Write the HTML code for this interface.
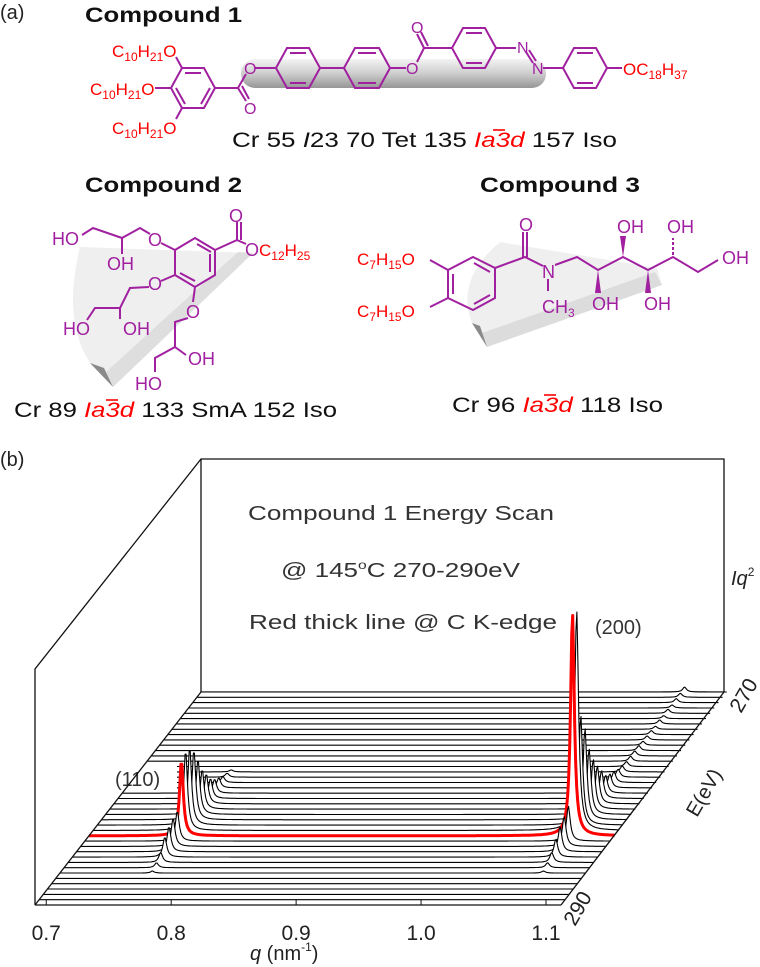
<!DOCTYPE html>
<html><head><meta charset="utf-8">
<style>
html,body{margin:0;padding:0;background:#fff;}
body{width:760px;height:967px;overflow:hidden;position:relative;font-family:"Liberation Sans",sans-serif;}
svg{position:absolute;left:0;top:0;}
</style></head>
<body>
<svg width="760" height="967" viewBox="0 0 760 967" font-family="Liberation Sans, sans-serif">
<defs>
<linearGradient id="cap" x1="0" y1="0" x2="0" y2="1">
<stop offset="0" stop-color="#f2f2f2"/><stop offset="0.5" stop-color="#c8c8c8"/><stop offset="1" stop-color="#8a8a8a"/>
</linearGradient>
</defs>

<!-- ============ PART A ============ -->
<text x="0" y="19" font-size="20" fill="#222">(a)</text>
<text x="85" y="22" font-size="21" font-weight="bold" fill="#111" textLength="157" lengthAdjust="spacingAndGlyphs">Compound 1</text>

<g>
<rect x="241" y="59" width="305" height="29" rx="14" fill="url(#cap)" opacity="0.9"/>
<g fill="none" stroke="#a020a0" stroke-width="2">
<polygon points="171,88 182,68 204,68 215,88 204,108 182,108"/>
<polyline points="185,73 201,73"/><polyline points="210,88 201,104"/><polyline points="176,88 185,104"/>
<line x1="182" y1="68" x2="176" y2="57"/><line x1="171" y1="88" x2="155" y2="88"/><line x1="182" y1="108" x2="176" y2="119"/>
<polyline points="215,88 238,88 246,74"/><line x1="238" y1="88" x2="246" y2="101"/><line x1="242" y1="86" x2="249" y2="99"/>
<line x1="255" y1="68" x2="276" y2="68"/>
<polygon points="276,68 287,48 309,48 320,68 309,88 287,88"/>
<line x1="290" y1="53" x2="306" y2="53"/><line x1="290" y1="83" x2="306" y2="83"/>
<line x1="320" y1="68" x2="344" y2="68"/>
<polygon points="344,68 355,48 379,48 390,68 379,88 355,88"/>
<line x1="358" y1="53" x2="376" y2="53"/><line x1="358" y1="83" x2="376" y2="83"/>
<line x1="390" y1="68" x2="406" y2="68"/>
<polyline points="417,62 424,48 452,48"/><line x1="424" y1="48" x2="417" y2="34"/><line x1="428" y1="46" x2="421" y2="32"/>
<polygon points="452,48 463,28 485,28 496,48 485,68 463,68"/>
<line x1="466" y1="33" x2="482" y2="33"/><line x1="466" y1="63" x2="482" y2="63"/>
<line x1="496" y1="48" x2="516" y2="48"/><line x1="526" y1="52" x2="533" y2="63"/><line x1="529" y1="50" x2="536" y2="61"/>
<line x1="543" y1="68" x2="563" y2="68"/>
<polygon points="563,68 574,48 596,48 607,68 596,88 574,88"/>
<line x1="577" y1="53" x2="593" y2="53"/><line x1="577" y1="83" x2="593" y2="83"/>
<line x1="607" y1="68" x2="622" y2="68"/>
</g>
<g font-size="16" fill="#a020a0">
<text x="244" y="114">O</text><text x="244" y="74">O</text><text x="406" y="74">O</text><text x="411" y="33">O</text>
<text x="517" y="53">N</text><text x="532" y="74">N</text>
</g>
<g font-size="17" fill="#ff0000">
<text x="112" y="57">C<tspan font-size="12" dy="4">10</tspan><tspan dy="-4">H</tspan><tspan font-size="12" dy="4">21</tspan><tspan dy="-4">O</tspan></text>
<text x="90" y="95">C<tspan font-size="12" dy="4">10</tspan><tspan dy="-4">H</tspan><tspan font-size="12" dy="4">21</tspan><tspan dy="-4">O</tspan></text>
<text x="112" y="134">C<tspan font-size="12" dy="4">10</tspan><tspan dy="-4">H</tspan><tspan font-size="12" dy="4">21</tspan><tspan dy="-4">O</tspan></text>
<text x="623" y="75">OC<tspan font-size="12" dy="4">18</tspan><tspan dy="-4">H</tspan><tspan font-size="12" dy="4">37</tspan></text>
</g>
</g>
<text x="232" y="147" font-size="21" fill="#111" textLength="385" lengthAdjust="spacingAndGlyphs">Cr 55 <tspan font-style="italic">I</tspan>23 70 Tet 135 <tspan font-style="italic" fill="#ff0000">Ia3d</tspan> 157 Iso</text>
<line x1="493" y1="130" x2="505" y2="130" stroke="#ff0000" stroke-width="1.6"/>

<text x="85" y="192" font-size="21" font-weight="bold" fill="#111" textLength="157" lengthAdjust="spacingAndGlyphs">Compound 2</text>
<text x="480" y="192" font-size="21" font-weight="bold" fill="#111" textLength="160" lengthAdjust="spacingAndGlyphs">Compound 3</text>

<g>
<path d="M80,247 L253,253 L113,387 L90,363 Q62,320 80,247 Z" fill="#efefef"/>
<path d="M253,253 L113,387 L106,372 L238,252 Z" fill="#dedede"/>
<path d="M90,363 L113,387 L104,368 Z" fill="#8a8a8a"/>
<g fill="none" stroke="#a020a0" stroke-width="2">
<polygon points="195,238 215,250 215,275 195,287 175,275 175,250"/>
<line x1="197" y1="244" x2="211" y2="252"/><line x1="210" y1="254" x2="210" y2="272"/><line x1="180" y1="273" x2="195" y2="281"/>
<polyline points="215,250 237,240 237,222"/><line x1="241" y1="240" x2="241" y2="222"/><line x1="237" y1="240" x2="246" y2="244"/>
<polyline points="175,250 161,243"/><polyline points="150,234 140,228 122,238 122,254"/><polyline points="122,238 93,228 82,235"/>
<polyline points="175,275 161,281"/><polyline points="149,287 130,288 120,308 120,319"/><polyline points="120,308 95,308 87,320"/>
<polyline points="195,287 193,302"/><polyline points="188,318 175,322 175,347 186,355"/><polyline points="175,347 155,358 155,372"/>
</g>
<g font-size="18" fill="#a020a0">
<text x="229" y="222">O</text><text x="245" y="256">O</text>
<text x="148" y="246">O</text><text x="52" y="245">HO</text><text x="107" y="270">OH</text>
<text x="148" y="290">O</text><text x="63" y="335">HO</text><text x="123" y="335">OH</text>
<text x="186" y="318">O</text><text x="188" y="365">OH</text><text x="135" y="390">HO</text>
</g>
<text x="259" y="256" font-size="17" fill="#ff0000">C<tspan font-size="12" dy="4">12</tspan><tspan dy="-4">H</tspan><tspan font-size="12" dy="4">25</tspan></text>
</g>

<g>
<path d="M500,242 L657,268 L662,285 L487,347 L472,323 Q455,280 500,242 Z" fill="#efefef"/>
<path d="M662,285 L487,347 L482,333 L655,272 Z" fill="#dcdcdc"/>
<path d="M472,323 L487,347 L480,326 Z" fill="#8a8a8a"/>
<g fill="none" stroke="#a020a0" stroke-width="2">
<polygon points="473,257 495,268 495,298 473,310 448,298 448,270"/>
<line x1="474" y1="263" x2="490" y2="272"/><line x1="453" y1="274" x2="453" y2="294"/><line x1="474" y1="304" x2="490" y2="295"/>
<line x1="448" y1="270" x2="430" y2="260"/><line x1="448" y1="298" x2="430" y2="307"/>
<polyline points="495,268 525,257 543,266"/><line x1="523" y1="257" x2="523" y2="232"/><line x1="527" y1="257" x2="527" y2="232"/>
<line x1="548" y1="279" x2="548" y2="291"/>
<polyline points="555,265 577,257 598,270 623,257 648,270 673,257 698,272 718,260"/>
<line x1="673" y1="255" x2="673" y2="238" stroke-dasharray="3,2"/>
</g>
<polygon points="598,270 595,293 601,293" fill="#a020a0"/>
<polygon points="623,257 620,236 626,236" fill="#a020a0"/>
<polygon points="648,270 645,293 651,293" fill="#a020a0"/>
<g font-size="18" fill="#a020a0">
<text x="519" y="231">O</text><text x="542" y="278">N</text>
<text x="542" y="313">CH<tspan font-size="12" dy="4">3</tspan></text>
<text x="592" y="310">OH</text><text x="617" y="233">OH</text><text x="644" y="310">OH</text><text x="667" y="233">OH</text><text x="722" y="264">OH</text>
</g>
<g font-size="17" fill="#ff0000">
<text x="357" y="265">C<tspan font-size="12" dy="4">7</tspan><tspan dy="-4">H</tspan><tspan font-size="12" dy="4">15</tspan><tspan dy="-4">O</tspan></text>
<text x="357" y="317">C<tspan font-size="12" dy="4">7</tspan><tspan dy="-4">H</tspan><tspan font-size="12" dy="4">15</tspan><tspan dy="-4">O</tspan></text>
</g>
</g>

<text x="14" y="417" font-size="21" fill="#111" textLength="323" lengthAdjust="spacingAndGlyphs">Cr 89 <tspan font-style="italic" fill="#ff0000">Ia3d</tspan> 133 SmA 152 Iso</text>
<line x1="106" y1="400" x2="118" y2="400" stroke="#ff0000" stroke-width="1.6"/>
<text x="452" y="412" font-size="21" fill="#111" textLength="211" lengthAdjust="spacingAndGlyphs">Cr 96 <tspan font-style="italic" fill="#ff0000">Ia3d</tspan> 118 Iso</text>
<line x1="544" y1="395" x2="556" y2="395" stroke="#ff0000" stroke-width="1.6"/>

<!-- ============ PART B ============ -->
<text x="0" y="466" font-size="20" fill="#222">(b)</text>
<g fill="none" stroke="#111" stroke-width="1.3">
<polyline points="35,905 35,669 201,459 724,459 724,692"/>
<line x1="201" y1="459" x2="201" y2="692"/>
<line x1="201" y1="692" x2="724" y2="692"/>
</g>
<g font-size="20" fill="#333">
<text x="248" y="520" textLength="306" lengthAdjust="spacingAndGlyphs">Compound 1 Energy Scan</text>
<text x="281" y="577" textLength="239" lengthAdjust="spacingAndGlyphs">@ 145<tspan font-size="12" dy="-8">o</tspan><tspan dy="8">C 270-290eV</tspan></text>
<text x="249" y="629" textLength="308" lengthAdjust="spacingAndGlyphs">Red thick line @ C K-edge</text>
</g>
<text x="731" y="585" font-size="20" font-style="italic" fill="#222">Iq<tspan font-size="12" dy="-9" font-style="normal">2</tspan></text>

<g id="traces"></g>

<rect x="113" y="766" width="64" height="24" fill="#fff"/>
<text x="115" y="786" font-size="20" fill="#333">(110)</text>
<text x="595" y="634" font-size="20" fill="#333">(200)</text>

<g fill="none" stroke="#111" stroke-width="1.3">
<line x1="35" y1="905" x2="561" y2="905"/>
<line x1="561" y1="905" x2="724" y2="692"/>
<line x1="35" y1="905" x2="201" y2="692"/>
</g>
<g id="xaxis"></g>
<text x="250" y="960" font-size="20" fill="#222"><tspan font-style="italic">q</tspan> (nm<tspan font-size="12" dy="-9">-1</tspan><tspan dy="9">)</tspan></text>
<g id="eaxis"></g>
<text x="0" y="0" font-size="20" fill="#222" transform="translate(697,818) rotate(-60)">E(eV)</text>
</svg>

<script>
// ---- chart data ----
const energies = [270,270.5,271,271.5,272,272.5,273,273.5,274,274.5,275,275.5,276,276.5,277,277.5,278,278.5,279,279.5,280,280.5,281,281.5,282,282.5,283,283.5,284,284.5,285,285.5,286,286.5,287,287.5,288,288.5,289,289.5,290];
const peak110 = [0,0,0,0,0,0,0,0,0,0,0,0,0,0,0,2,4,6,10,14,20,30,40,55,70,78,80,75,30,28,25,20,10,5,2,0,0,0,0,0,0];
const peak200 = [5,4,4,3,4,3,4,3,4,4,4,5,5,5,5,6,8,11,14,18,28,38,50,66,92,110,221,223,35,30,25,18,10,5,2,0,0,0,0,0,0];
const redEnergy = 283.5;
const qPeaks = [0.765, 1.078];
const qTicks = [0.7, 0.8, 0.9, 1.0, 1.1];
const eTicks = [270, 290];

// ---- axis functions ----
const qMin = 0.691, qMax = 1.112;
const X0 = 35, X1 = 561, Y0 = 905, DX = 166, DY = -213;
function xq(q){ return X0 + (q - qMin) / (qMax - qMin) * (X1 - X0); }
function depth(e){ return (290 - e) / 20; }
function proj(q, e, z){ const d = depth(e); return [xq(q) + DX*d, Y0 + DY*d - z]; }
function lor(q, c, g){ return (g*g) / ((q-c)*(q-c) + g*g); }

const NS = 'http://www.w3.org/2000/svg';
const tg = document.getElementById('traces');
for (let i = 0; i < energies.length; i++) {
  const e = energies[i];
  const isRed = e === redEnergy;
  let pts = [];
  for (let q = qMin; q <= qMax + 1e-9; q += 0.0008) {
    const z = peak110[i]*lor(q, qPeaks[0], 0.0018) + peak200[i]*lor(q, qPeaks[1], 0.0018);
    pts.push(proj(q, e, z));
  }
  const d = 'M' + pts.map(p => p[0].toFixed(1)+','+p[1].toFixed(1)).join(' L');
  const last = pts[pts.length-1], first = pts[0];
  const fill = document.createElementNS(NS, 'path');
  fill.setAttribute('d', d + ` L${last[0].toFixed(1)},${(last[1]+2).toFixed(1)} L${first[0].toFixed(1)},${(first[1]+2).toFixed(1)} Z`);
  fill.setAttribute('fill', '#fff');
  fill.setAttribute('stroke', 'none');
  
  
  tg.appendChild(fill);
  const p = document.createElementNS(NS, 'path');
  p.setAttribute('d', d);
  p.setAttribute('fill', 'none');
  p.setAttribute('stroke', isRed ? '#ff0000' : '#000');
  p.setAttribute('stroke-width', isRed ? '3' : '1.1');
  p.setAttribute('stroke-linejoin', 'round');
  
  
  tg.appendChild(p);
}

const xa = document.getElementById('xaxis');
qTicks.forEach(q => {
  const x = xq(q);
  const t = document.createElementNS(NS, 'line');
  t.setAttribute('x1', x); t.setAttribute('x2', x);
  t.setAttribute('y1', Y0); t.setAttribute('y2', Y0 - 5);
  t.setAttribute('stroke', '#111');
  
  
  xa.appendChild(t);
  const l = document.createElementNS(NS, 'text');
  l.setAttribute('x', x); l.setAttribute('y', 940);
  l.setAttribute('text-anchor', 'middle');
  l.setAttribute('font-size', '21');
  l.setAttribute('fill', '#222');
  l.textContent = q.toFixed(1);
  
  
  xa.appendChild(l);
});

const ea = document.getElementById('eaxis');
eTicks.forEach(e => {
  const p = proj(qMax, e, 0);
  const l = document.createElementNS(NS, 'text');
  l.setAttribute('transform', `translate(${(p[0]+14).toFixed(1)},${(p[1]+22).toFixed(1)}) rotate(-60)`);
  l.setAttribute('font-size', '21');
  l.setAttribute('fill', '#222');
  l.textContent = String(e);
  
  
  ea.appendChild(l);
});
</script>
</body></html>
